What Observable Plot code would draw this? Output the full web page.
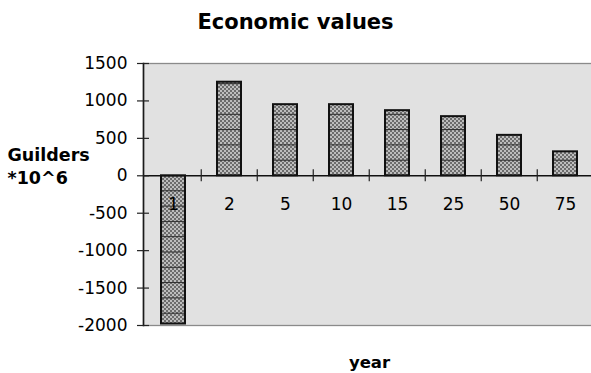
<!DOCTYPE html>
<html>
<head>
<meta charset="utf-8">
<script src="https://cdn.jsdelivr.net/npm/d3@7"></script>
<script src="https://cdn.jsdelivr.net/npm/@observablehq/plot@0.6"></script>
<style>
  html, body { margin: 0; padding: 0; background: #fff; }
  #chart svg { display: block; }
</style>
</head>
<body>
<div id="chart"></div>
<script>
// Economic values by year (guilders x 10^6)
const years = ["1", "2", "5", "10", "15", "25", "50", "75"];
const values = [-1980, 1250, 950, 950, 870, 790, 540, 320];
const yTicks = [-2000, -1500, -1000, -500, 0, 500, 1000, 1500];

const chartTitle = "Economic values";
const yLabel = "Guilders\n*10^6";
const xLabel = "year";

const data = years.map((year, i) => ({year, value: values[i]}));

const width = 591, height = 373;
const marginLeft = 143, marginRight = -4, marginTop = 63, marginBottom = 48;
const step = (width - marginLeft - marginRight) / years.length;

const chart = Plot.plot({
  width, height, marginLeft, marginRight, marginTop, marginBottom,
  style: {fontFamily: "DejaVu Sans", fontSize: "17px", background: "#fff", color: "#000", overflow: "visible"},
  x: {type: "band", domain: years, paddingInner: 0.576, paddingOuter: 0.288, axis: null},
  y: {domain: [-2000, 1500], label: null},
  marks: [
    // plot area
    Plot.frame({fill: "#e1e1e1", stroke: "#8a8a8a", strokeWidth: 1.3}),
    Plot.frame({anchor: "left", stroke: "#1a1a1a", strokeWidth: 1.6}),
    // bars: checker fill, then horizontal line texture, then outline
    Plot.barY(data, {x: "year", y: "value", fill: "url(#checker)"}),
    Plot.barY(data, {x: "year", y: "value", fill: "url(#bands)"}),
    Plot.barY(data, {x: "year", y: "value", fill: "none", stroke: "#111", strokeWidth: 2}),
    // zero line with crossing ticks between categories
    Plot.ruleY([0], {stroke: "#111", strokeWidth: 1.5}),
    Plot.ruleX(years.slice(1), {x: d => d, y1: 0, y2: 0, dx: -step / 2, insetTop: -6, insetBottom: -6, stroke: "#222", strokeWidth: 1.2}),
    // y axis: crossing ticks and labels
    Plot.axisY(yTicks, {tickSize: 12, dx: 6, tickFormat: () => "", stroke: "#222", strokeWidth: 1.2, label: null}),
    Plot.axisY(yTicks, {tickSize: 0, tickPadding: 16, tickFormat: d => String(d), fontSize: 17, fill: "#000", label: null}),
    // category labels below the zero line
    Plot.text(years, {x: d => d, y: 0, dy: 29, fontSize: 17, fill: "#000", lineAnchor: "middle"}),
    // titles
    Plot.text([chartTitle], {frameAnchor: "top-left", dx: 295 - marginLeft, dy: -35, textAnchor: "middle", lineAnchor: "bottom", fontSize: 21, fontWeight: "bold", fill: "#000"}),
    Plot.text([yLabel], {frameAnchor: "left", dx: 7 - marginLeft, dy: -11, textAnchor: "start", lineAnchor: "bottom", lineHeight: 1.3, fontSize: 17.5, fontWeight: "bold", fill: "#000"}),
    Plot.text([xLabel], {frameAnchor: "bottom", dy: 42, lineAnchor: "bottom", fontSize: 16.5, fontWeight: "bold", fill: "#000"})
  ]
});

// fill patterns for the bars
const svg = d3.select(chart);
const defs = svg.insert("defs", ":first-child");
const checker = defs.append("pattern")
  .attr("id", "checker").attr("patternUnits", "userSpaceOnUse")
  .attr("width", 4).attr("height", 4);
checker.append("rect").attr("width", 4).attr("height", 4).attr("fill", "#bdbdbd");
checker.append("rect").attr("width", 2).attr("height", 2).attr("fill", "#6c6c6c");
checker.append("rect").attr("x", 2).attr("y", 2).attr("width", 2).attr("height", 2).attr("fill", "#6c6c6c");
const bands = defs.append("pattern")
  .attr("id", "bands").attr("patternUnits", "userSpaceOnUse")
  .attr("width", 8).attr("height", 15.3).attr("y", 175);
bands.append("rect").attr("width", 8).attr("height", 1).attr("fill", "#2a2a2a");

document.getElementById("chart").append(chart);
</script>
</body>
</html>
